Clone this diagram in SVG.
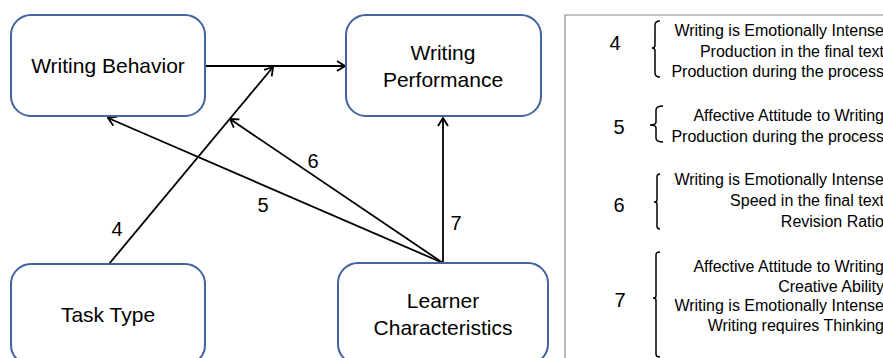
<svg xmlns="http://www.w3.org/2000/svg" width="883" height="358" viewBox="0 0 883 358">
<defs>
<style>
.node{fill:#fff;stroke:#41649F;stroke-width:2}
.lbl{font-family:"Liberation Sans",Arial,sans-serif;font-size:21px;fill:#000;text-anchor:middle}
.num{font-family:"Liberation Sans",Arial,sans-serif;font-size:20px;fill:#000;text-anchor:middle}
.item{font-family:"Liberation Sans",Arial,sans-serif;font-size:16px;fill:#000;text-anchor:end}
.edge{stroke:#000;stroke-width:1.8;fill:none}
.br{stroke:#000;stroke-width:1.5;fill:none}
</style>
<marker id="arr" viewBox="0 0 10 12" refX="9" refY="6" markerWidth="10" markerHeight="12" markerUnits="userSpaceOnUse" orient="auto">
<path d="M1,1 L9,6 L1,11" fill="none" stroke="#000" stroke-width="1.8"/>
</marker>
</defs>
<rect width="883" height="358" fill="#fff"/>

<g id="connectors">
<line class="edge" x1="205" y1="66" x2="345" y2="66" marker-end="url(#arr)"/>
<line class="edge" x1="109" y1="264" x2="273" y2="67" marker-end="url(#arr)"/>
<line class="edge" x1="443" y1="263" x2="108" y2="118" marker-end="url(#arr)"/>
<line class="edge" x1="443" y1="263" x2="230" y2="119" marker-end="url(#arr)"/>
<line class="edge" x1="443" y1="263" x2="443" y2="118" marker-end="url(#arr)"/>
<text class="num" x="117" y="236">4</text>
<text class="num" x="263" y="212">5</text>
<text class="num" x="313" y="168">6</text>
<text class="num" x="456" y="230">7</text>
</g>

<g id="writing-behavior">
<rect class="node" x="11" y="15" width="194" height="101" rx="20"/>
<text class="lbl" x="108" y="73">Writing Behavior</text>
</g>
<g id="writing-performance">
<rect class="node" x="346" y="15" width="195" height="101" rx="20"/>
<text class="lbl" x="443" y="60">Writing</text>
<text class="lbl" x="443" y="87">Performance</text>
</g>
<g id="task-type">
<rect class="node" x="11" y="264" width="194" height="101" rx="20"/>
<text class="lbl" x="108" y="322">Task Type</text>
</g>
<g id="learner-characteristics">
<rect class="node" x="338" y="263" width="210" height="101" rx="20"/>
<text class="lbl" x="443" y="308">Learner</text>
<text class="lbl" x="443" y="335">Characteristics</text>
</g>

<g id="legend">
<path d="M565,360 L565,15 L885,15" fill="none" stroke="#8a8a8a" stroke-width="1.2"/>
<text class="num" x="615" y="50">4</text>
<path class="br" d="M660,21 Q655,21 655,25 L655,45 Q655,48 652,48 Q655,48 655,51 L655,73 Q655,77 660,77"/>
<text class="item" x="884" y="36">Writing is Emotionally Intense</text>
<text class="item" x="884" y="57">Production in the final text</text>
<text class="item" x="884" y="77">Production during the process</text>

<text class="num" x="619" y="134">5</text>
<path class="br" d="M663,106 Q656,106 656,110 L656,122 Q656,125 650,125 Q656,125 656,128 L656,138 Q656,142 663,142"/>
<text class="item" x="884" y="121">Affective Attitude to Writing</text>
<text class="item" x="884" y="142">Production during the process</text>

<text class="num" x="619" y="212">6</text>
<path class="br" d="M660,174 Q657,174 657,177 L657,200 Q657,202 654,202 Q657,202 657,204 L657,226 Q657,229 660,229"/>
<text class="item" x="884" y="185">Writing is Emotionally Intense</text>
<text class="item" x="884" y="206">Speed in the final text</text>
<text class="item" x="884" y="227">Revision Ratio</text>

<text class="num" x="620" y="307">7</text>
<path class="br" d="M660,252 Q656,252 656,255 L656,296 Q656,298 653,298 Q656,298 656,300 L656,354 Q656,357 660,357"/>
<text class="item" x="884" y="272">Affective Attitude to Writing</text>
<text class="item" x="884" y="292">Creative Ability</text>
<text class="item" x="884" y="311">Writing is Emotionally Intense</text>
<text class="item" x="884" y="331">Writing requires Thinking</text>
</g>
</svg>
